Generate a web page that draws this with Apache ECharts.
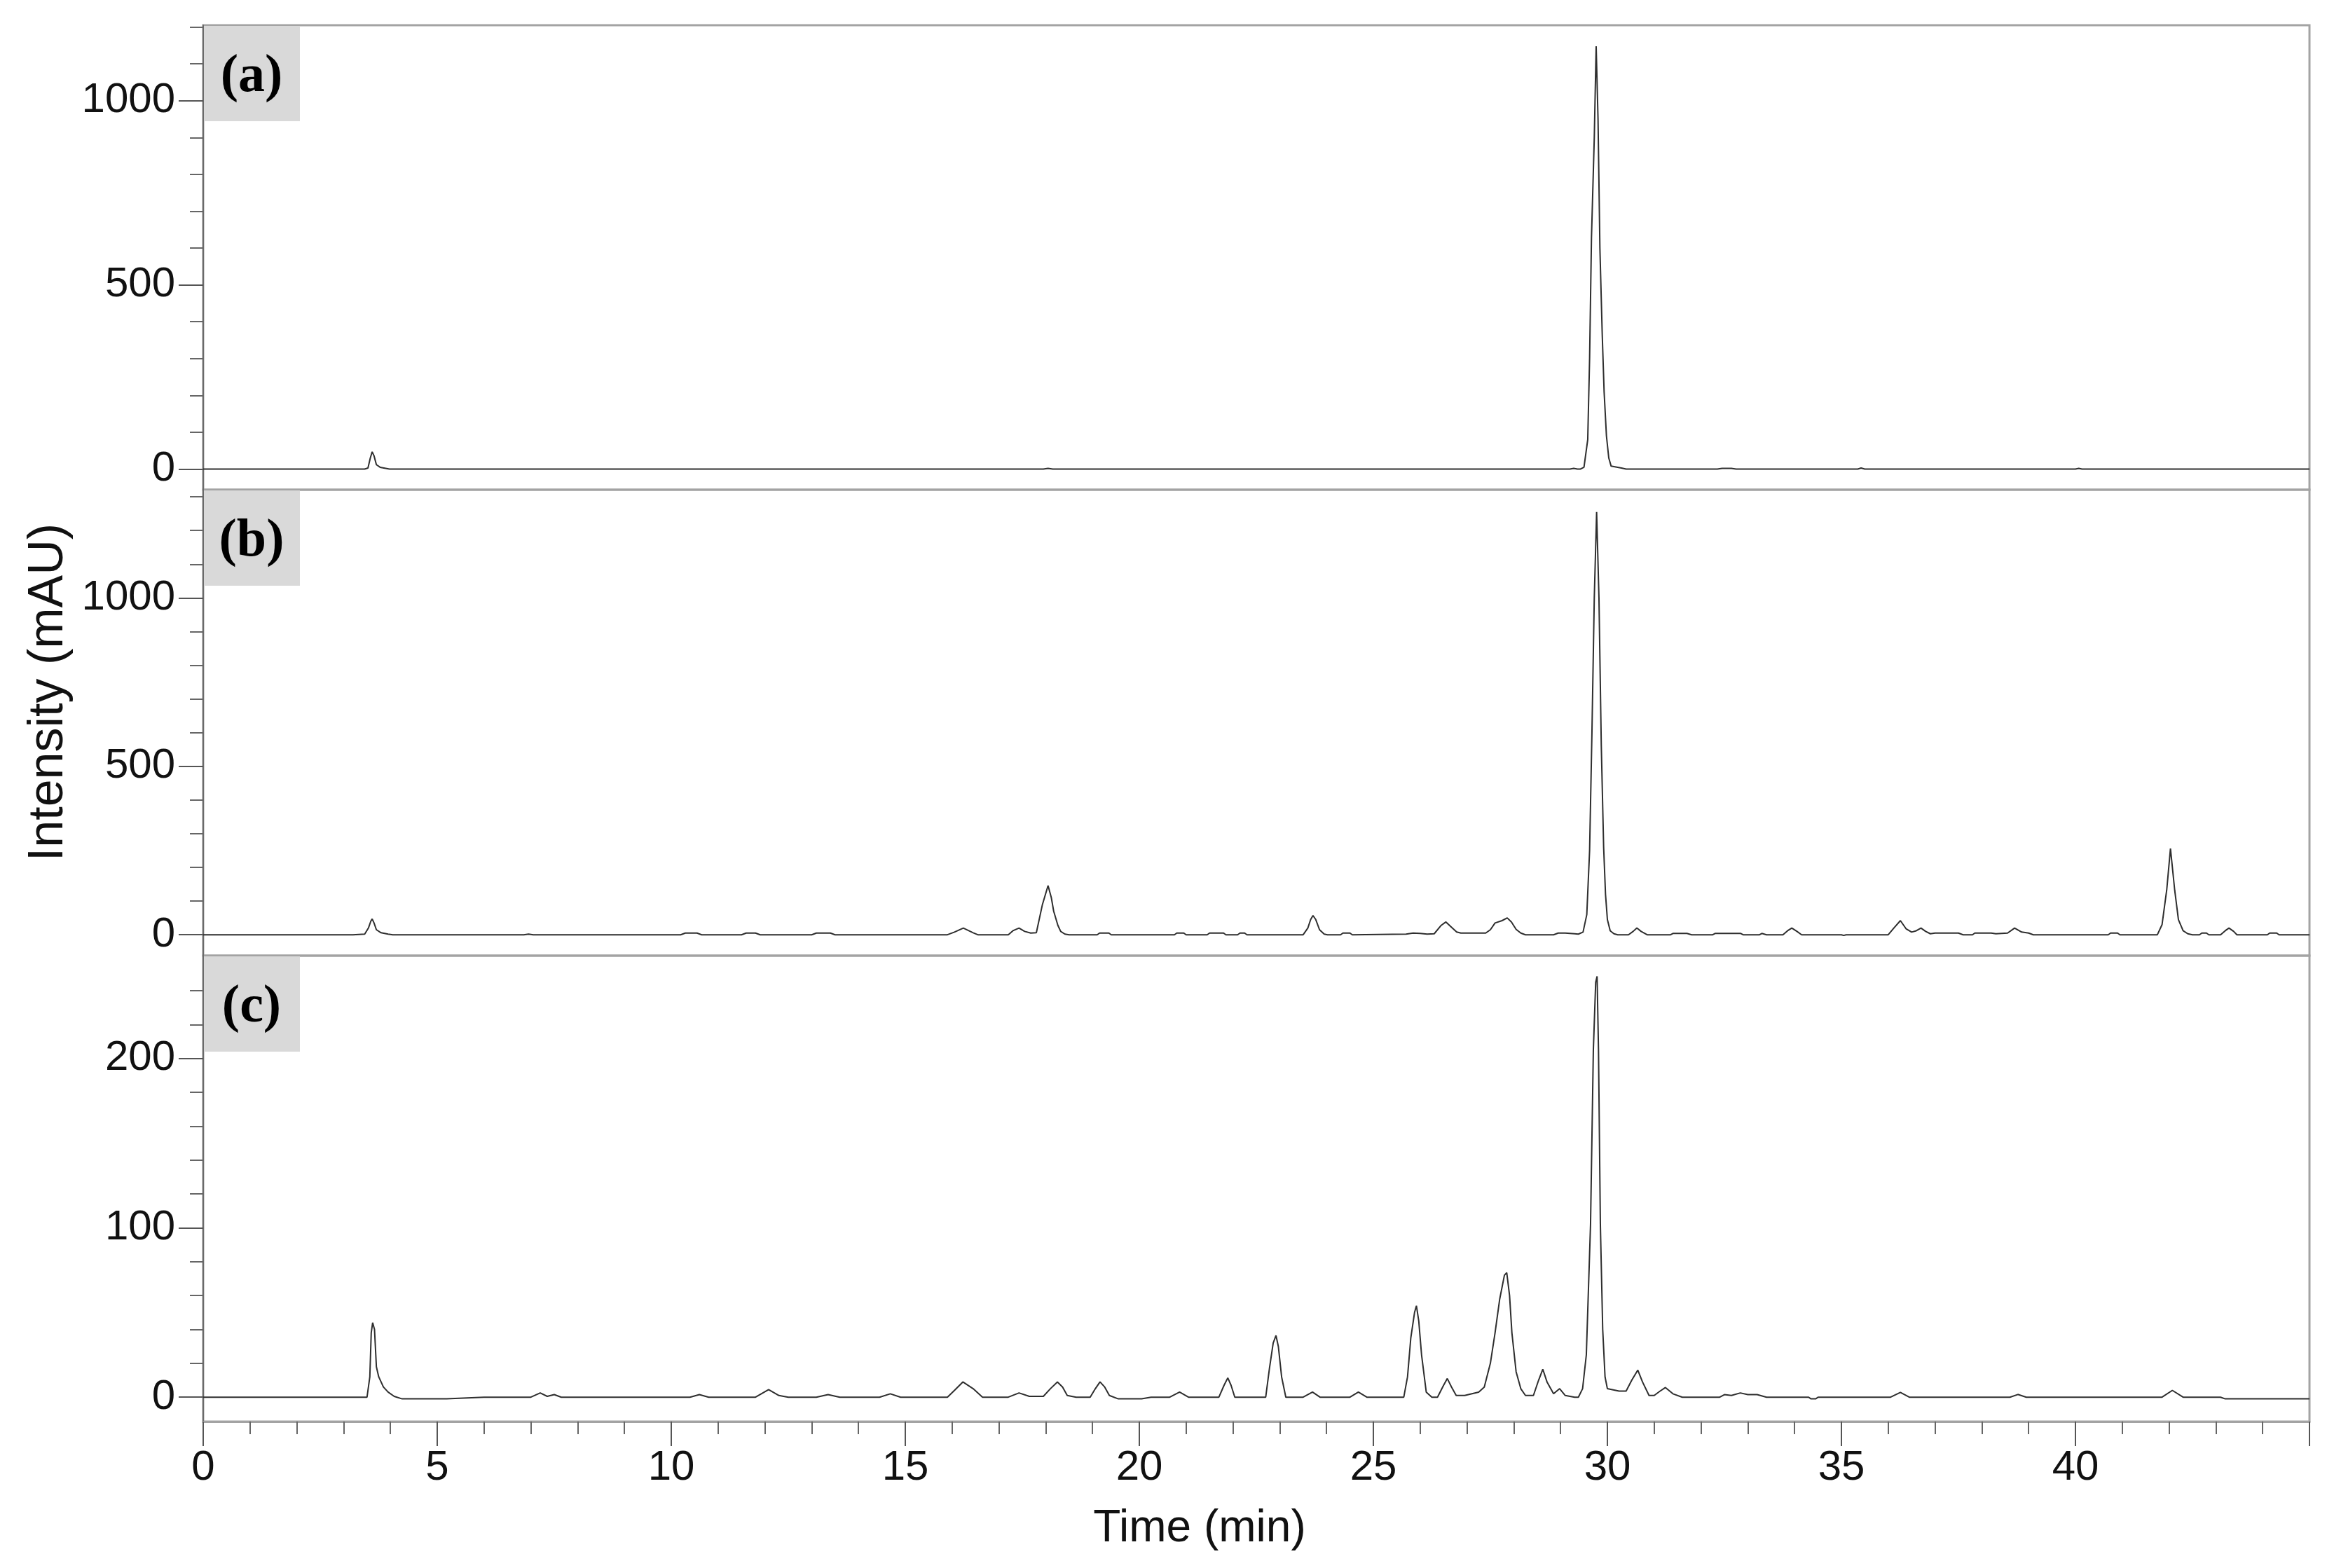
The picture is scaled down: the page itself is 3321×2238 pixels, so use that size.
<!DOCTYPE html>
<html>
<head>
<meta charset="utf-8">
<title>Chromatograms</title>
<script src="https://cdn.jsdelivr.net/npm/echarts@6/dist/echarts.min.js"></script>
<style>
  html, body { margin: 0; padding: 0; background: #fff; }
  #main { width: 3321px; height: 2238px; }
</style>
</head>
<body>
<div id="main"></div>
<script>
// traces: [time (min), intensity (mAU)]
const traceA = [
  [0, 0], [3.45, 0], [3.52, 3], [3.57, 30], [3.61, 47], [3.65, 36], [3.70, 12], [3.78, 5], [3.90, 2], [3.98, 0],
  [17.95, 0], [18.05, 2], [18.15, 0],
  [29.20, 0], [29.28, 2], [29.36, 0],
  [29.42, 0], [29.50, 5], [29.58, 80], [29.62, 300], [29.66, 628], [29.72, 900], [29.76, 1148], [29.80, 950],
  [29.84, 600], [29.89, 365], [29.93, 210], [29.98, 90], [30.03, 30], [30.08, 8], [30.30, 3], [30.40, 0],
  [32.35, 0], [32.45, 2], [32.65, 2], [32.75, 0],
  [35.35, 0], [35.42, 3], [35.50, 0],
  [40.00, 0], [40.07, 2], [40.14, 0],
  [45, 0]
];

const traceB = [
  [0, 0], [3.20, 0], [3.45, 2], [3.53, 20], [3.58, 40], [3.61, 47], [3.65, 35], [3.70, 15], [3.80, 6], [3.95, 2], [4.05, 0],
  [6.85, 0], [6.95, 2], [7.05, 0],
  [10.2, 0], [10.3, 5], [10.55, 5], [10.65, 0],
  [11.5, 0], [11.6, 5], [11.8, 5], [11.9, 0],
  [13.0, 0], [13.1, 5], [13.4, 5], [13.5, 0],
  [15.9, 0], [16.05, 8], [16.24, 20], [16.45, 6], [16.55, 0],
  [17.20, 0], [17.30, 12], [17.43, 20], [17.55, 10], [17.68, 5], [17.80, 6],
  [17.93, 90], [18.05, 146], [18.12, 110], [18.17, 70], [18.26, 28], [18.32, 10], [18.41, 2], [18.50, 0],
  [19.1, 0], [19.15, 5], [19.35, 5], [19.4, 0],
  [20.75, 0], [20.8, 5], [20.95, 5], [21.0, 0],
  [21.45, 0], [21.5, 5], [21.8, 5], [21.85, 0],
  [22.1, 0], [22.15, 5], [22.25, 5], [22.3, 0],
  [23.50, 0], [23.60, 20], [23.66, 45], [23.71, 57], [23.77, 45], [23.85, 15], [23.95, 2], [24.02, 0],
  [24.30, 0], [24.35, 5], [24.50, 5], [24.55, 0],
  [25.70, 2], [25.85, 5], [26.0, 4], [26.15, 2], [26.3, 3], [26.45, 28], [26.55, 38], [26.65, 25], [26.78, 8], [26.87, 5],
  [27.40, 5], [27.50, 15], [27.60, 35], [27.75, 42], [27.86, 50], [27.95, 38], [28.05, 16], [28.15, 5], [28.25, 0],
  [28.85, 0], [28.95, 5], [29.1, 5], [29.3, 3],
  [29.38, 2], [29.48, 8], [29.56, 60], [29.62, 250], [29.67, 600], [29.72, 1000], [29.77, 1255], [29.82, 1000],
  [29.87, 560], [29.92, 260], [29.96, 120], [30.00, 45], [30.06, 12], [30.14, 3], [30.22, 0],
  [30.45, 0], [30.55, 10], [30.63, 20], [30.72, 10], [30.85, 0],
  [31.35, 0], [31.4, 4], [31.7, 4], [31.8, 0], [32.25, 0], [32.3, 4], [32.85, 4], [32.9, 0], [33.25, 0], [33.3, 4], [33.4, 0],
  [33.75, 0], [33.85, 12], [33.94, 20], [34.05, 10], [34.15, 0],
  [35.0, 0], [35.05, -2], [35.1, 0],
  [36.0, 0], [36.12, 20], [36.26, 42], [36.38, 18], [36.5, 8], [36.6, 12], [36.7, 20], [36.8, 10], [36.9, 3],
  [37.0, 5], [37.5, 5], [37.6, 0], [37.8, 0], [37.85, 5], [38.2, 5], [38.3, 3],
  [38.55, 5], [38.7, 20], [38.85, 8], [39.0, 5], [39.1, 0],
  [40.7, 0], [40.75, 5], [40.9, 5], [40.95, 0],
  [41.75, 0], [41.85, 30], [41.95, 133], [42.03, 256], [42.12, 133], [42.2, 45], [42.3, 12], [42.4, 3], [42.5, 0],
  [42.65, 0], [42.7, 5], [42.8, 5], [42.85, 0],
  [43.1, 0], [43.2, 12], [43.28, 20], [43.38, 10], [43.45, 0],
  [44.1, 0], [44.15, 5], [44.3, 5], [44.35, 0],
  [45, 0]
];

const traceC = [
  [0, 0], [3.50, 0], [3.56, 12], [3.59, 38], [3.62, 44], [3.66, 40], [3.70, 18], [3.75, 12], [3.85, 6], [3.95, 3],
  [4.08, 0.5], [4.25, -1], [5.2, -1], [6.0, 0],
  [7.0, 0], [7.2, 2.5], [7.35, 0.5], [7.5, 1.5], [7.65, 0],
  [10.4, 0], [10.6, 1.5], [10.8, 0],
  [11.8, 0], [12.08, 4.5], [12.3, 1], [12.5, 0],
  [13.1, 0], [13.35, 1.5], [13.6, 0],
  [14.45, 0], [14.68, 2], [14.9, 0],
  [15.9, 0], [16.05, 4], [16.23, 9], [16.45, 5], [16.65, 0],
  [17.2, 0], [17.43, 2.5], [17.65, 0.5],
  [17.95, 0.5], [18.1, 5], [18.25, 9], [18.36, 6], [18.46, 1], [18.65, 0],
  [18.95, 0], [19.06, 5], [19.16, 9], [19.26, 6], [19.36, 1], [19.55, -1], [20.05, -1], [20.25, 0],
  [20.65, 0], [20.86, 3], [21.05, 0],
  [21.7, 0], [21.81, 7], [21.89, 11.4], [21.96, 7], [22.04, 0],
  [22.7, 0], [22.78, 17], [22.86, 32], [22.92, 36.4], [22.97, 30], [23.04, 12], [23.13, 0],
  [23.5, 0], [23.7, 3], [23.86, 0],
  [24.5, 0], [24.68, 3], [24.86, 0],
  [25.65, 0], [25.73, 12], [25.8, 35], [25.88, 50], [25.92, 54], [25.97, 45], [26.03, 25], [26.13, 3], [26.25, 0],
  [26.37, 0], [26.5, 7], [26.58, 11], [26.67, 6], [26.77, 1],
  [26.95, 1], [27.25, 3], [27.37, 6], [27.5, 20], [27.6, 38], [27.7, 58], [27.8, 72], [27.85, 73.5], [27.91, 60],
  [27.96, 38], [28.05, 15], [28.15, 5], [28.25, 1],
  [28.42, 1], [28.53, 10], [28.62, 16.5], [28.71, 9], [28.85, 2], [28.98, 5], [29.1, 1], [29.3, 0],
  [29.38, 0], [29.47, 5], [29.55, 25], [29.64, 102], [29.7, 205], [29.75, 245], [29.78, 248.5], [29.81, 205],
  [29.85, 102], [29.9, 40], [29.95, 12], [30.0, 5], [30.25, 3.6], [30.4, 3.6],
  [30.52, 10], [30.65, 16], [30.75, 9], [30.89, 1], [31.0, 1], [31.12, 3.5], [31.24, 5.7], [31.4, 2], [31.6, 0],
  [32.4, 0], [32.5, 1.5], [32.65, 1], [32.84, 2.5], [33.0, 1.5], [33.2, 1.5], [33.4, 0],
  [34.3, 0], [34.35, -1], [34.45, -1], [34.5, 0],
  [36.05, 0], [36.26, 2.8], [36.45, 0],
  [38.6, 0], [38.77, 1.6], [38.95, 0],
  [41.85, 0], [42.07, 4], [42.3, 0],
  [43.1, 0], [43.2, -1], [45, -1]
];

// tick positions
const timeLabels = [0, 5, 10, 15, 20, 25, 30, 35, 40];
const timeMajorTicks = [0, 5, 10, 15, 20, 25, 30, 35, 40, 45];
const timeMinorTicks = [1, 2, 3, 4, 6, 7, 8, 9, 11, 12, 13, 14, 16, 17, 18, 19, 21, 22, 23, 24,
  26, 27, 28, 29, 31, 32, 33, 34, 36, 37, 38, 39, 41, 42, 43, 44];
const yMajorA = [0, 500, 1000];
const yMinorA = [100, 200, 300, 400, 600, 700, 800, 900, 1100, 1200];
const yMajorB = [0, 500, 1000];
const yMinorB = [100, 200, 300, 400, 600, 700, 800, 900, 1100, 1200, 1300];
const yMajorC = [0, 100, 200];
const yMinorC = [20, 40, 60, 80, 120, 140, 160, 180, 220, 240];
const panelNames = ['(a)', '(b)', '(c)'];

const myChart = echarts.init(document.getElementById('main'));

const font = 'Liberation Sans';
const panels = [
  { top: 36, height: 663, min: -56, max: 1205, major: yMajorA, minor: yMinorA, data: traceA },
  { top: 699, height: 665, min: -62, max: 1321, major: yMajorB, minor: yMinorB, data: traceB },
  { top: 1364, height: 665, min: -14.4, max: 260.7, major: yMajorC, minor: yMinorC, data: traceC }
];

const grids = [], xAxes = [], yAxes = [], series = [], graphics = [];

panels.forEach((p, i) => {
  grids.push({
    left: 290, right: 25, top: p.top, height: p.height,
    show: true, borderColor: '#a3a3a3', borderWidth: 3
  });
  const last = i === panels.length - 1;
  xAxes.push({
    type: 'value', gridIndex: i, min: 0, max: 45, position: 'bottom',
    axisLine: { show: last, onZero: false, lineStyle: { color: '#a3a3a3', width: 3 } },
    axisTick: { show: last, customValues: timeMajorTicks, length: 35, lineStyle: { color: '#555', width: 2 } },
    axisLabel: {
      show: last, customValues: timeLabels, margin: 36,
      fontFamily: font, fontSize: 60, color: '#111'
    },
    splitLine: { show: false }
  });
  yAxes.push({
    type: 'value', gridIndex: i, min: p.min, max: p.max, position: 'left',
    axisLine: { show: true, onZero: false, lineStyle: { color: '#6a6a6a', width: 2 } },
    axisTick: { show: true, customValues: p.major, length: 35, lineStyle: { color: '#555', width: 2 } },
    axisLabel: {
      show: true, customValues: p.major, margin: 40,
      formatter: (v) => String(v),
      fontFamily: font, fontSize: 60, color: '#111'
    },
    splitLine: { show: false }
  });
  yAxes.push({
    type: 'value', gridIndex: i, min: p.min, max: p.max, position: 'left',
    axisLine: { show: false, onZero: false },
    axisTick: { show: true, customValues: p.minor, length: 19, lineStyle: { color: '#666', width: 2 } },
    axisLabel: { show: false },
    splitLine: { show: false }
  });
  series.push({
    type: 'line', xAxisIndex: i, yAxisIndex: i * 2,
    data: p.data, showSymbol: false, symbol: 'none',
    lineStyle: { color: '#2e2e2e', width: 2 },
    z: 3
  });
  graphics.push({
    type: 'rect', left: 291, top: p.top + 1, z: 1,
    shape: { width: 137, height: 136 },
    style: { fill: '#d9d9d9' }
  });
  graphics.push({
    type: 'text', x: 359, y: p.top + 74, z: 5,
    style: {
      text: panelNames[i], font: 'bold 76px "Liberation Serif"',
      fill: '#000', textAlign: 'center', textVerticalAlign: 'middle'
    }
  });
});

// minor time ticks on the bottom panel
xAxes.push({
  type: 'value', gridIndex: 2, min: 0, max: 45, position: 'bottom',
  axisLine: { show: false, onZero: false },
  axisTick: { show: true, customValues: timeMinorTicks, length: 18, lineStyle: { color: '#666', width: 2 } },
  axisLabel: { show: false },
  splitLine: { show: false }
});

graphics.push({
  type: 'text', x: 70, y: 988, rotation: Math.PI / 2, z: 5,
  style: {
    text: 'Intensity (mAU)', font: '70px "Liberation Sans"',
    fill: '#111', textAlign: 'center', textVerticalAlign: 'middle'
  }
});
graphics.push({
  type: 'text', x: 1712, y: 2182, z: 5,
  style: {
    text: 'Time (min)', font: '64px "Liberation Sans"',
    fill: '#111', textAlign: 'center', textVerticalAlign: 'middle'
  }
});

const option = {
  backgroundColor: '#fff',
  animation: false,
  grid: grids,
  xAxis: xAxes,
  yAxis: yAxes,
  series: series,
  graphic: graphics
};

myChart.setOption(option);
</script>
</body>
</html>
